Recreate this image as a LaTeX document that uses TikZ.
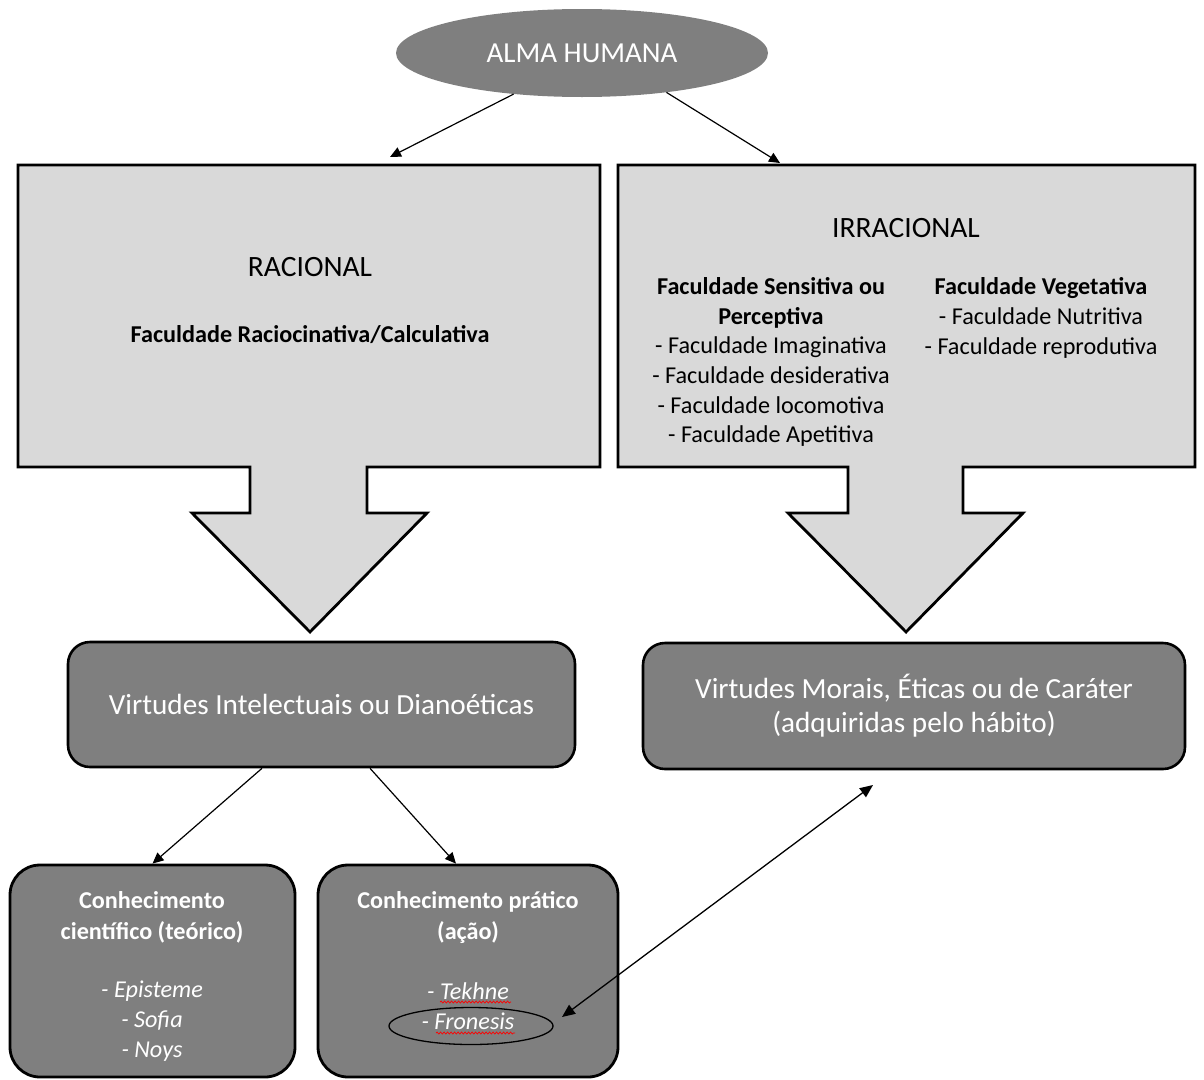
\documentclass[tikz,border=0pt]{standalone}
\usepackage{fontspec}
\setmainfont{Carlito}
\usetikzlibrary{arrows.meta,shapes.geometric,decorations.pathmorphing}
\definecolor{cinza}{RGB}{127,127,127}
\definecolor{cinzaclaro}{RGB}{217,217,217}

\begin{document}
\begin{tikzpicture}[x=1pt,y=-1pt,
    seta/.style={-{Triangle[length=11pt,width=10pt]},line width=1.2pt},
    setadupla/.style={{Triangle[length=13pt,width=11pt]}-{Triangle[length=13pt,width=11pt]},line width=1.3pt},
    bloco/.style={draw=black,line width=2.8pt,fill=cinzaclaro,line join=miter},
    virtude/.style={draw=black,line width=2.6pt,fill=cinza,rounded corners=22pt,text=white,align=center,inner sep=0pt},
    conhec/.style={draw=black,line width=2.8pt,fill=cinza,rounded corners=30pt,inner sep=0pt},
    branco/.style={text=white,align=center,inner sep=0pt},
    sublinha/.style={draw=red,line width=0.7pt,decorate,decoration={snake,amplitude=1pt,segment length=3.5pt}}]
    \useasboundingbox (0,0) rectangle (1204,1079);
    % alma
    \node[ellipse,fill=cinza,minimum width=372pt,minimum height=88pt,inner sep=0pt,text=white,font=\fontsize{29}{34}\selectfont] (alma) at (582,53) {ALMA HUMANA};
    % block arrows
    \draw[bloco] (18,165) -- (600,165) -- (600,467) -- (367,467) -- (367,513) -- (427,513) -- (310,632) -- (192,513) -- (250,513) -- (250,467) -- (18,467) -- cycle;
    \draw[bloco] (618,165) -- (1195,165) -- (1195,467) -- (963,467) -- (963,513) -- (1023,513) -- (906,632) -- (788,513) -- (848,513) -- (848,467) -- (618,467) -- cycle;
    \coordinate (racTopo) at (390,157);
    \coordinate (irrTopo) at (780,163);
    \draw[seta] (alma.211.5) -- (racTopo);
    \draw[seta] (alma.335) -- (irrTopo);
    % racional
    \node[font=\fontsize{29.5}{34}\selectfont] (rac) at (310,267) {RACIONAL};
    \node[font=\fontsize{24.2}{29}\selectfont\bfseries] (racfac) at (310,335) {Faculdade Raciocinativa/Calculativa};
    % irracional
    \node[font=\fontsize{29.5}{34}\selectfont] (irr) at (906,228) {IRRACIONAL};
    \node[align=center,inner sep=0pt,font=\fontsize{24.2}{29.7}\selectfont] (sens) at (771,362)
        {\textbf{Faculdade Sensitiva ou}\\\textbf{Perceptiva}\\- Faculdade Imaginativa\\- Faculdade desiderativa\\- Faculdade locomotiva\\- Faculdade Apetitiva};
    \node[align=center,inner sep=0pt,font=\fontsize{24.2}{29.7}\selectfont] (veg) at (1041,318)
        {\textbf{Faculdade Vegetativa}\\- Faculdade Nutritiva\\- Faculdade reprodutiva};
    % virtudes
    \node[virtude,minimum width=507pt,minimum height=125pt,font=\fontsize{29.2}{34}\selectfont] (vint) at (321.5,704.5) {Virtudes Intelectuais ou Dianoéticas};
    \node[virtude,minimum width=542pt,minimum height=126pt,font=\fontsize{29.2}{34}\selectfont] (vmor) at (914,706) {Virtudes Morais, Éticas ou de Caráter\\(adquiridas pelo hábito)};
    % conhecimento
    \node[conhec,minimum width=285pt,minimum height=212pt] (cien) at (152.5,971) {};
    \node[conhec,minimum width=300pt,minimum height=212pt] (prat) at (468,971) {};
    \draw[seta] ([xshift=-59.5pt]vint.south) -- (cien.north);
    \draw[seta] ([xshift=48.5pt]vint.south) -- ([xshift=-12pt]prat.north);
    \node[branco,font=\fontsize{24.2}{30.5}\selectfont\bfseries] (cientit) at (152,917.5) {Conhecimento\\científico (teórico)};
    \node[branco,font=\fontsize{24.2}{30}\selectfont\itshape] (cienlst) at (152,1021) {- Episteme\\- Sofia\\- Noys};
    \node[branco,font=\fontsize{24.2}{30.5}\selectfont\bfseries] (pratit) at (468,917.5) {Conhecimento prático\\(ação)};
    \node[branco,font=\fontsize{24.2}{30}\selectfont\itshape] (tekhne) at (468,991) {- Tekhne};
    \node[branco,font=\fontsize{24.2}{30}\selectfont\itshape] (fron) at (468,1021) {- Fronesis};
    \node[ellipse,draw=black,line width=1.3pt,minimum width=164pt,minimum height=37pt,inner sep=0pt] (fronAnel) at (471,1026) {};
    \draw[sublinha] (440,1002) -- (511,1002);
    \draw[sublinha] (436,1033) -- (515,1033);
    % ligacao fronesis
    \coordinate (fronPonta) at (562,1017);
    \coordinate (morPonta) at (873,785);
    \draw[setadupla] (fronPonta) -- (morPonta);
\end{tikzpicture}
\end{document}
